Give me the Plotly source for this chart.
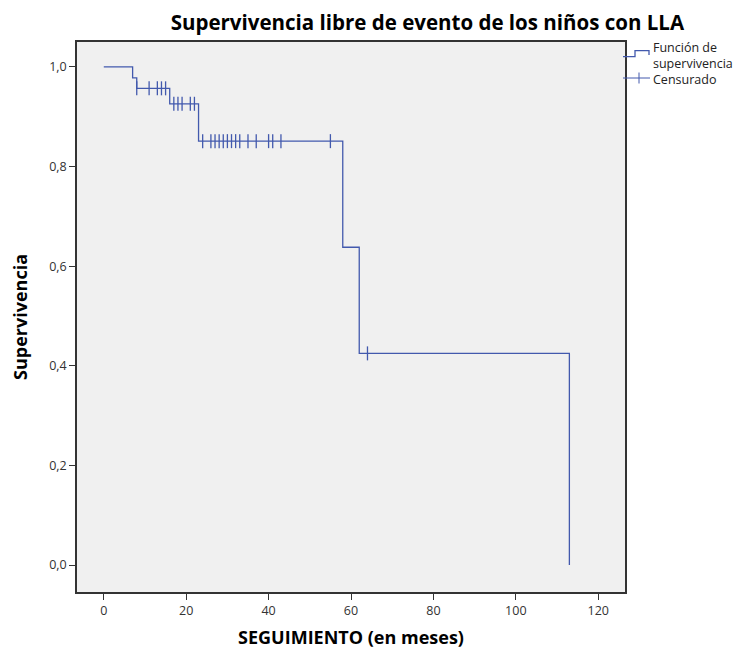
import plotly.graph_objects as go

# Kaplan-Meier steps
event_times = [0, 7, 8, 16, 23, 58, 62, 113]
survival = [1.0, 0.978, 0.957, 0.926, 0.851, 0.638, 0.425, 0.0]

# censored cases (time, survival level)
cens_times = [8, 11, 13, 14, 15,
              17, 18, 19, 21, 22,
              24, 26, 27, 28, 29, 30, 31, 32, 33, 35, 37, 40, 41, 43, 55,
              64]
cens_surv = [0.957] * 5 + [0.926] * 5 + [0.851] * 15 + [0.425]

legend_labels = ['Función de<br>supervivencia', 'Censurado']

blue = '#4259ad'
font = 'Open Sans'

# the page puts the figure 8px in from the top-left corner
W, H = 741, 642
L, R, T, B = 69, 124, 34, 58
pw, ph = W - L - R, H - T - B


def px(x):  # figure pixel -> paper x
    return (x - L) / pw


def py(y):  # figure pixel -> paper y
    return (H - B - y) / ph


fig = go.Figure()
fig.add_trace(go.Scatter(x=event_times, y=survival, mode='lines', line_shape='hv',
                         line=dict(color=blue, width=1.3), showlegend=False))
fig.add_trace(go.Scatter(x=cens_times, y=cens_surv, mode='markers',
                         marker=dict(symbol='line-ns-open', size=10, color=blue,
                                     line=dict(color=blue, width=1.3)),
                         showlegend=False))

# hand-made legend, like the SPSS one
step = 'M {} {} L {} {} L {} {} L {} {} L {} {}'.format(
    px(615), py(48.7), px(627), py(48.7), px(627), py(42.7),
    px(641), py(42.7), px(641), py(47))
fig.add_shape(type='path', path=step, xref='paper', yref='paper',
              line=dict(color=blue, width=1.3))
fig.add_shape(type='line', x0=px(615), x1=px(642), y0=py(70), y1=py(70),
              xref='paper', yref='paper', line=dict(color=blue, width=1))
fig.add_shape(type='line', x0=px(631), x1=px(631), y0=py(64.5), y1=py(75.5),
              xref='paper', yref='paper', line=dict(color=blue, width=1))
for label, yc in zip(legend_labels, [47, 71]):
    fig.add_annotation(text=label, x=px(644), y=py(yc), xref='paper', yref='paper',
                       xanchor='left', yanchor='middle', align='left',
                       showarrow=False, borderpad=0,
                       font=dict(family=font, size=12.5, color='#222'))

fig.update_layout(
    template='none',
    width=W, height=H,
    margin=dict(l=L, r=R, t=T, b=B),
    paper_bgcolor='white', plot_bgcolor='#f0f0f0',
    separators=',.',
    font=dict(family=font, size=12, color='#222'),
    showlegend=False,
    title=dict(text='<b>Supervivencia libre de evento de los niños con LLA</b>',
               x=0.566, xanchor='center', y=0.977, yanchor='middle',
               font=dict(family=font, size=20.5, color='black')),
)
fig.update_xaxes(range=[-6.5, 126.5], tickvals=[0, 20, 40, 60, 80, 100, 120],
                 showgrid=False, zeroline=False, ticks='outside', ticklen=6,
                 tickcolor='#333', showline=True, linecolor='#333', linewidth=1.5,
                 mirror=True, automargin=False,
                 tickfont=dict(size=12.5, color='#333'),
                 title=dict(text='<b>SEGUIMIENTO (en meses)</b>', standoff=14,
                            font=dict(family=font, size=18, color='black')))
fig.update_yaxes(range=[-0.054, 1.05], tickvals=[0, 0.2, 0.4, 0.6, 0.8, 1.0],
                 tickformat='.1f', automargin=False,
                 showgrid=False, zeroline=False, ticks='outside', ticklen=6,
                 tickcolor='#333', showline=True, linecolor='#333', linewidth=1.5,
                 mirror=True, tickfont=dict(size=12.5, color='#333'),
                 title=dict(text='<b>Supervivencia</b>', standoff=22,
                            font=dict(family=font, size=18, color='black')))

fig.write_html('out.html')
